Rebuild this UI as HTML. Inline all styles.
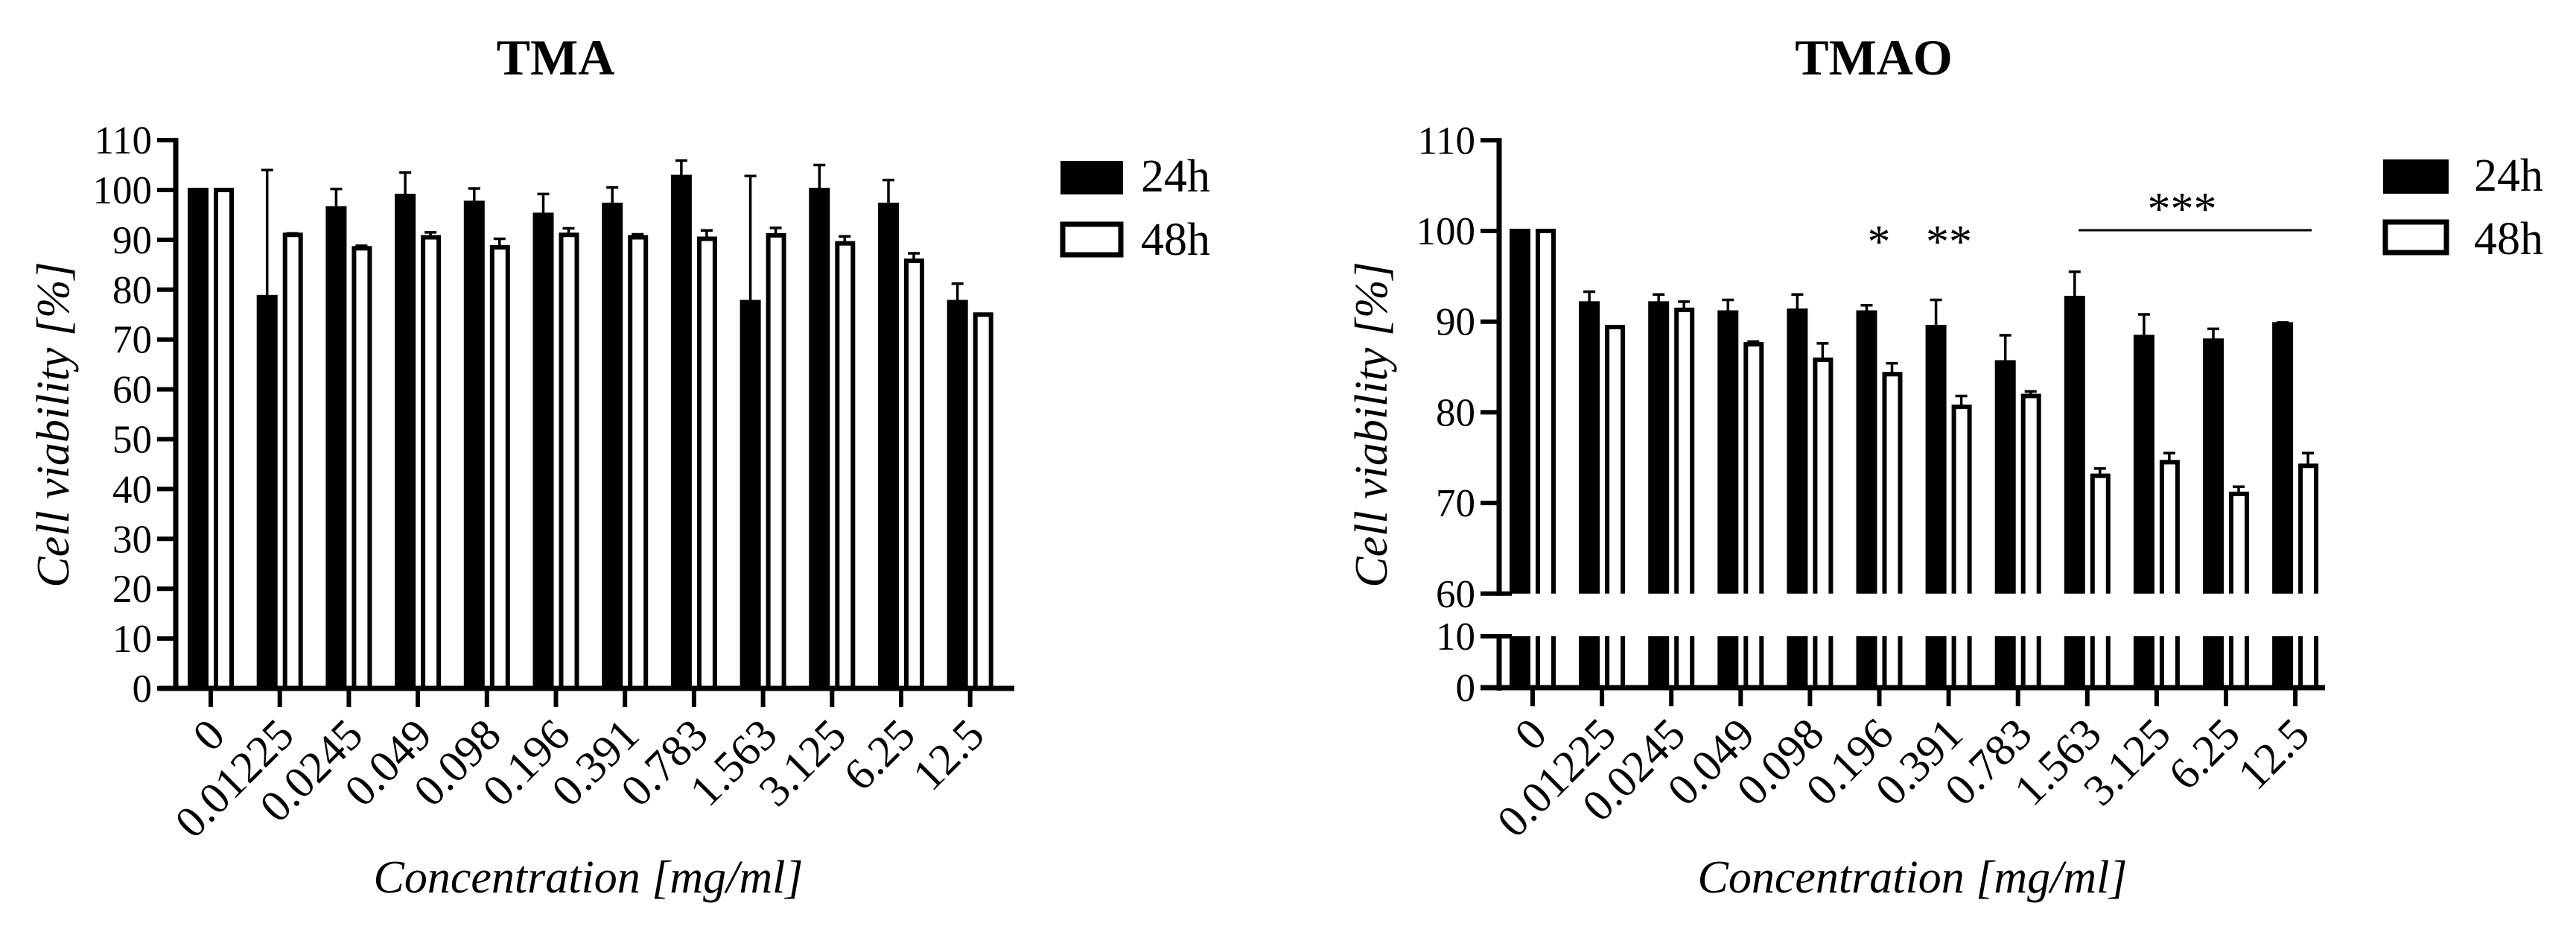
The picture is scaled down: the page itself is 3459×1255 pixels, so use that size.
<!DOCTYPE html>
<html><head><meta charset="utf-8"><style>
html,body{margin:0;padding:0;background:#fff}
svg{display:block}
text{font-family:"Liberation Serif",serif;fill:#000}
</style></head><body>
<svg id="svg" width="3459" height="1255" viewBox="0 0 3459 1255" xmlns="http://www.w3.org/2000/svg">
<text x="746" y="100" font-size="68" font-weight="bold" text-anchor="middle">TMA</text>
<text x="2516" y="100" font-size="68" font-weight="bold" text-anchor="middle">TMAO</text>
<text transform="translate(92,570) rotate(-90)" font-size="62" font-style="italic" text-anchor="middle">Cell viability [%]</text>
<text transform="translate(1862,570) rotate(-90)" font-size="62" font-style="italic" text-anchor="middle">Cell viability [%]</text>
<text x="790" y="1198" font-size="62" font-style="italic" text-anchor="middle">Concentration [mg/ml]</text>
<text x="2568" y="1198" font-size="62" font-style="italic" text-anchor="middle">Concentration [mg/ml]</text>
<g>
<rect x="1424" y="216" width="84" height="45" fill="#000"/>
<text x="1532" y="257" font-size="62">24h</text>
<rect x="1427" y="301" width="78" height="41" fill="#fff" stroke="#000" stroke-width="7"/>
<text x="1532" y="342" font-size="62">48h</text>
</g>
<g>
<rect x="3200" y="214" width="88" height="46" fill="#000"/>
<text x="3322" y="256" font-size="62">24h</text>
<rect x="3203" y="298" width="82" height="41" fill="#fff" stroke="#000" stroke-width="7"/>
<text x="3322" y="341" font-size="62">48h</text>
</g>
<g>
<text x="2523" y="345" font-size="62" text-anchor="middle">*</text>
<text x="2617" y="345" font-size="62" text-anchor="middle">**</text>
<text x="2930" y="301" font-size="62" text-anchor="middle">***</text>
<line x1="2791" y1="309" x2="3104" y2="309" stroke="#000" stroke-width="3"/>
</g>
<g id="left"></g><g id="right"></g>
</svg>
<script>
const categories = ["0","0.01225","0.0245","0.049","0.098","0.196","0.391","0.783","1.563","3.125","6.25","12.5"];
const tma24 = [100,78.5,96.3,98.8,97.4,95,97,102.6,77.5,100,97,77.5];
const tma24Err = [0,25.5,3.9,4.7,2.9,4.2,3.5,3.3,25.3,5,5,3.7];
const tma48 = [100,91,88.3,90.5,88.5,91,90.5,90.2,90.9,89.3,85.8,75];
const tma48Err = [0,0.3,0.5,1,1.7,1.3,0.6,1.7,1.5,1.4,1.5,0];
const tmao24 = [100,92,92,91,91.2,91,89.4,85.5,92.6,88.3,87.9,89.7];
const tmao24Err = [0,1.3,1,1.4,1.8,0.8,3,3,2.9,2.5,1.3,0.2];
const tmao48 = [100,89.4,91.3,87.5,85.8,84.2,80.6,81.8,73,74.5,71,74.1];
const tmao48Err = [0,0,0.9,0.3,1.8,1.2,1.2,0.5,0.8,1,0.8,1.4];
const tmaTicks = [0,10,20,30,40,50,60,70,80,90,100,110];
const tmaoUpperTicks = [60,70,80,90,100,110];
const tmaoLowerTicks = [0,10];

const NS="http://www.w3.org/2000/svg";
function mk(parent,tag,attrs){const e=document.createElementNS(NS,tag);for(const k in attrs)e.setAttribute(k,attrs[k]);parent.appendChild(e);return e;}

function drawAxesX(g,x0,step,axL,axR,axY){
  const ax=mk(g,'line',{x1:axL,y1:axY,x2:axR,y2:axY,stroke:'#000','stroke-width':7});
  
  
  categories.forEach((c,i)=>{
    const x=x0+i*step;
    const t=mk(g,'line',{x1:x,y1:axY,x2:x,y2:axY+25,stroke:'#000','stroke-width':6});
    
    
    const lb=mk(g,'text',{transform:`translate(${x+22},${axY+66}) rotate(-45)`,'font-size':60,'text-anchor':'end'});
    lb.textContent=c;
    
    
  });
}
function yTick(g,ax,y,label,len){
  const t=mk(g,'line',{x1:ax-25,y1:y,x2:ax+len,y2:y,stroke:'#000','stroke-width':6});
  
  
  const l=mk(g,'text',{x:ax-32,y:y+18,'font-size':53,'text-anchor':'end'});
  l.textContent=label;
  
  
}
function bar(g,cx,top,bottom,filled,name){
  const x1=filled?cx-28:cx+7, w=filled?22:21;
  if(filled){
    const r=mk(g,'rect',{x:x1-3,y:top-3,width:w+6,height:bottom-top+3,fill:'#000'});
    
    
  } else {
    const p=mk(g,'path',{d:`M${x1},${bottom} L${x1},${top} L${x1+w},${top} L${x1+w},${bottom}`,fill:'#fff',stroke:'#000','stroke-width':6});
    
    
  }
}
function errBar(g,cx,top,errTop){
  if(errTop>=top-1)return;
  const e=mk(g,'path',{d:`M${cx},${top} L${cx},${errTop} M${cx-8},${errTop} L${cx+8},${errTop}`,stroke:'#000','stroke-width':3.5,fill:'none'});
  
  
}

// Left chart TMA
(function(){
  const g=document.getElementById('left');
  const ax=236, x0=283, step=92.7;
  const y=v=>924-v*6.69;
  const a=mk(g,'line',{x1:ax,y1:y(110)-3,x2:ax,y2:927,stroke:'#000','stroke-width':7});
  
  
  tmaTicks.forEach(v=>yTick(g,ax,y(v),String(v),0));
  categories.forEach((c,i)=>{
    const cx=x0+i*step;
    bar(g,cx,y(tma24[i]),y(0),true,'bar-24h-'+c);
    errBar(g,cx-17,y(tma24[i]),y(tma24[i]+tma24Err[i]));
    bar(g,cx,y(tma48[i]),y(0),false,'bar-48h-'+c);
    errBar(g,cx+17,y(tma48[i]),y(tma48[i]+tma48Err[i]));
  });
  drawAxesX(g,x0,step,213,1362,924);
})();

// Right chart TMAO (broken axis)
(function(){
  const g=document.getElementById('right');
  const ax=2013, x0=2058, step=93.1;
  const yu=v=>310-(v-100)*12.17;
  const yl=v=>923-v*6.9;
  const a1=mk(g,'line',{x1:ax,y1:yu(110)-3,x2:ax,y2:yu(60)+3,stroke:'#000','stroke-width':7});
  
  
  const a2=mk(g,'line',{x1:ax,y1:yl(10)-3,x2:ax,y2:927,stroke:'#000','stroke-width':7});
  
  
  tmaoUpperTicks.forEach(v=>yTick(g,ax,yu(v),String(v),v===60?17:0));
  tmaoLowerTicks.forEach(v=>yTick(g,ax,yl(v),String(v),v===10?17:0));
  categories.forEach((c,i)=>{
    const cx=x0+i*step;
    bar(g,cx,yu(tmao24[i]),yu(60),true,'bar-24h-'+c);
    bar(g,cx,yl(10)+3,yl(0),true,'bar-24h-lower-'+c);
    errBar(g,cx-17,yu(tmao24[i]),yu(tmao24[i]+tmao24Err[i]));
    bar(g,cx,yu(tmao48[i]),yu(60),false,'bar-48h-'+c);
    const p=mk(g,'path',{d:`M${cx+7},${yl(10)} L${cx+7},${yl(0)} M${cx+28},${yl(10)} L${cx+28},${yl(0)}`,stroke:'#000','stroke-width':6});
    
    
    errBar(g,cx+17,yu(tmao48[i]),yu(tmao48[i]+tmao48Err[i]));
  });
  drawAxesX(g,x0,step,1988,3122,923);
})();
</script>
</body></html>
